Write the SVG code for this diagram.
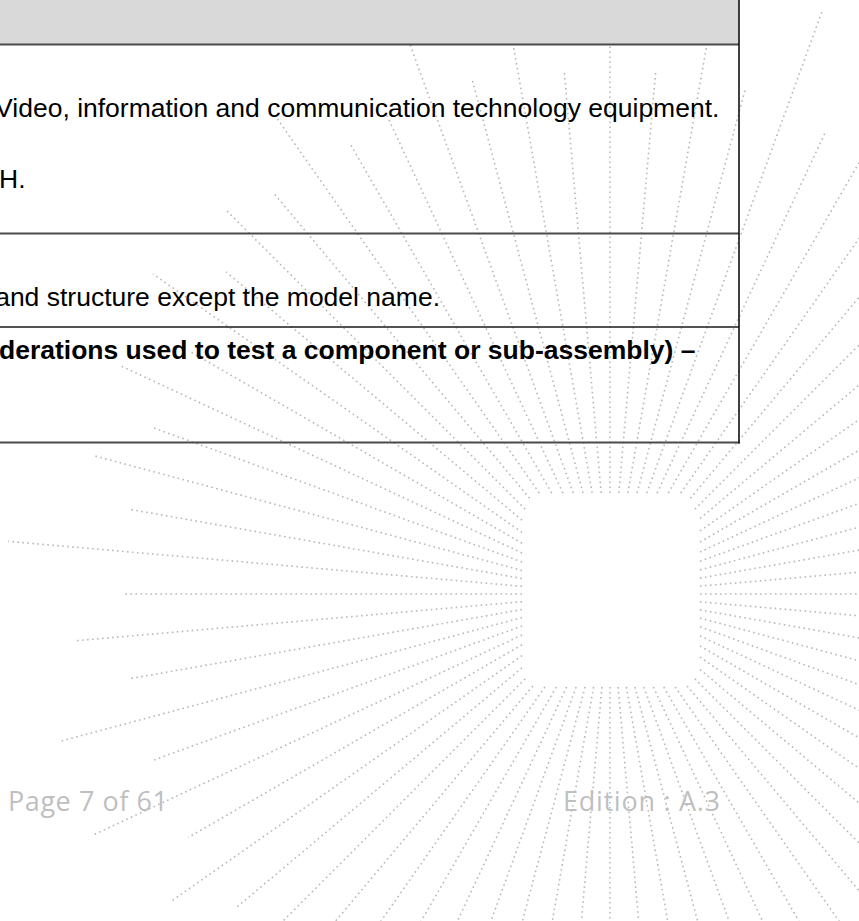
<svg xmlns="http://www.w3.org/2000/svg" width="859" height="921" viewBox="0 0 859 921">
<style>
.ray{stroke:#b8b8b8;stroke-width:1.6;stroke-dasharray:1.6 3.4;fill:none}
.cell{font-family:"Liberation Sans",Arial,sans-serif;font-size:26.5px;fill:#000}
.b{font-weight:bold}
.foot{font-family:"Open Sans","Noto Sans",sans-serif;font-size:27px;fill:#bfbfbf}
.rule{stroke:#4a4a4a;stroke-width:2}
</style>
<rect width="859" height="921" fill="#fff"/>
<g id="watermark" class="ray" transform="translate(610 594)">
<line x1="90" x2="750"/>
<line x1="90.3" x2="750" transform="rotate(5)"/>
<line x1="91.4" x2="750" transform="rotate(10)"/>
<line x1="93.2" x2="750" transform="rotate(15)"/>
<line x1="95.8" x2="750" transform="rotate(20)"/>
<line x1="99.3" x2="750" transform="rotate(25)"/>
<line x1="103.9" x2="750" transform="rotate(30)"/>
<line x1="109.9" x2="750" transform="rotate(35)"/>
<line x1="117.5" x2="750" transform="rotate(40)"/>
<line x1="120" x2="750" transform="rotate(45)"/>
<line x1="120" x2="750" transform="rotate(50)"/>
<line x1="113.5" x2="750" transform="rotate(55)"/>
<line x1="107.4" x2="750" transform="rotate(60)"/>
<line x1="102.6" x2="750" transform="rotate(65)"/>
<line x1="99" x2="750" transform="rotate(70)"/>
<line x1="96.3" x2="750" transform="rotate(75)"/>
<line x1="94.4" x2="750" transform="rotate(80)"/>
<line x1="93.4" x2="750" transform="rotate(85)"/>
<line x1="93" x2="750" transform="rotate(90)"/>
<line x1="93.4" x2="750" transform="rotate(95)"/>
<line x1="94.4" x2="750" transform="rotate(100)"/>
<line x1="96.3" x2="750" transform="rotate(105)"/>
<line x1="99" x2="750" transform="rotate(110)"/>
<line x1="102.6" x2="750" transform="rotate(115)"/>
<line x1="107.4" x2="750" transform="rotate(120)"/>
<line x1="113.5" x2="750" transform="rotate(125)"/>
<line x1="120" x2="750" transform="rotate(130)"/>
<line x1="120" x2="750" transform="rotate(135)"/>
<line x1="114.9" x2="488" transform="rotate(140)"/>
<line x1="107.4" x2="537" transform="rotate(145)"/>
<line x1="101.6" x2="487" transform="rotate(150)"/>
<line x1="97.1" x2="571" transform="rotate(155)"/>
<line x1="93.6" x2="487" transform="rotate(160)"/>
<line x1="91.1" x2="570" transform="rotate(165)"/>
<line x1="89.4" x2="487" transform="rotate(170)"/>
<line x1="88.3" x2="537" transform="rotate(175)"/>
<line x1="88" x2="487" transform="rotate(180)"/>
<line x1="88.3" x2="604" transform="rotate(185)"/>
<line x1="89.4" x2="487" transform="rotate(190)"/>
<line x1="91.1" x2="536" transform="rotate(195)"/>
<line x1="93.6" x2="487" transform="rotate(200)"/>
<line x1="97.1" x2="542" transform="rotate(205)"/>
<line x1="101.6" x2="487" transform="rotate(210)"/>
<line x1="107.4" x2="558" transform="rotate(215)"/>
<line x1="114.9" x2="501" transform="rotate(220)"/>
<line x1="120" x2="542" transform="rotate(225)"/>
<line x1="125" x2="525" transform="rotate(230)"/>
<line x1="123.3" x2="580" transform="rotate(235)"/>
<line x1="116.6" x2="520" transform="rotate(240)"/>
<line x1="111.4" x2="529" transform="rotate(245)"/>
<line x1="107.5" x2="590" transform="rotate(250)"/>
<line x1="104.6" x2="534" transform="rotate(255)"/>
<line x1="102.6" x2="750" transform="rotate(260)"/>
<line x1="101.4" x2="524" transform="rotate(265)"/>
<line x1="101" x2="750" transform="rotate(270)"/>
<line x1="101.4" x2="523" transform="rotate(275)"/>
<line x1="102.6" x2="750" transform="rotate(280)"/>
<line x1="104.6" x2="523" transform="rotate(285)"/>
<line x1="107.5" x2="621" transform="rotate(290)"/>
<line x1="111.4" x2="509" transform="rotate(295)"/>
<line x1="116.6" x2="750" transform="rotate(300)"/>
<line x1="123.3" x2="750" transform="rotate(305)"/>
<line x1="125" x2="750" transform="rotate(310)"/>
<line x1="120" x2="750" transform="rotate(315)"/>
<line x1="117.5" x2="750" transform="rotate(320)"/>
<line x1="109.9" x2="750" transform="rotate(325)"/>
<line x1="103.9" x2="750" transform="rotate(330)"/>
<line x1="99.3" x2="750" transform="rotate(335)"/>
<line x1="95.8" x2="750" transform="rotate(340)"/>
<line x1="93.2" x2="750" transform="rotate(345)"/>
<line x1="91.4" x2="750" transform="rotate(350)"/>
<line x1="90.3" x2="750" transform="rotate(355)"/>
</g>
<g id="table">
<rect x="0" y="0" width="739" height="44" fill="#d9d9d9"/>
<line class="rule" x1="0" y1="44.5" x2="739" y2="44.5"/>
<line class="rule" x1="0" y1="233.5" x2="739" y2="233.5"/>
<line x1="0" y1="327" x2="739" y2="327" stroke="#1a1a1a" stroke-width="1.3"/>
<line class="rule" x1="0" y1="442.5" x2="740" y2="442.5"/>
<line x1="739" y1="0" x2="739" y2="443.5" stroke="#111" stroke-width="1.6"/>
</g>
<g id="cell-text" class="cell" text-anchor="end">
<text x="719.4" y="117">Video, information and communication technology equipment.</text>
<text x="25.5" y="188">H.</text>
<text x="440" y="306">and structure except the model name.</text>
<text class="b" x="695.5" y="359">derations used to test a component or sub-assembly) –</text>
</g>
<g id="footer" class="foot">
<text x="8" y="811" textLength="160" lengthAdjust="spacing">Page 7 of 61</text>
<text x="563" y="811" textLength="157" lengthAdjust="spacing">Edition : A.3</text>
</g>
</svg>
